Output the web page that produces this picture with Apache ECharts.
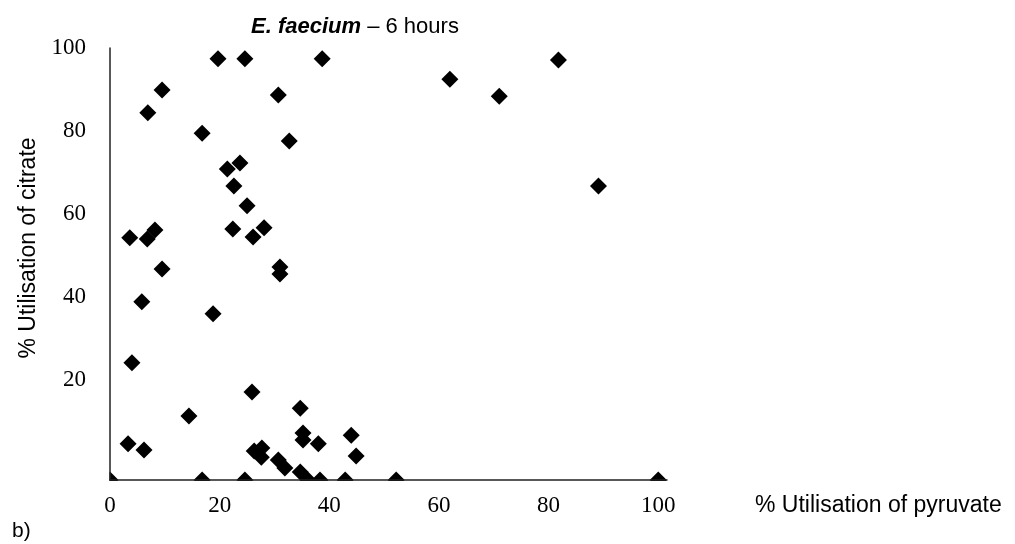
<!DOCTYPE html>
<html>
<head>
<meta charset="utf-8">
<script src="https://cdn.jsdelivr.net/npm/echarts@6/dist/echarts.min.js"></script>
<style>
  html, body { margin: 0; padding: 0; background: #fff; }
  #chart { width: 1015px; height: 544px; }
</style>
</head>
<body>
<div id="chart"></div>
<script>
// % utilisation (x = pyruvate, y = citrate)
const pyruvate = [
  19.7, 24.6, 38.7, 81.8, 9.5, 6.9, 30.7, 62.0, 71.0, 16.8,
  32.7, 23.7, 21.4, 22.6, 89.1, 25.0, 3.6, 6.8, 8.2, 22.4,
  26.1, 28.1, 9.5, 31.0, 31.0, 5.8, 18.8, 4.0, 25.9, 14.4,
  34.7, 35.2, 35.2, 38.0, 44.0, 44.9, 3.3, 6.2, 26.3, 27.7,
  27.6, 30.7, 31.9, 34.7, 0, 16.8, 24.6, 36.1, 38.3, 42.9,
  52.2, 100
];
const citrate = [
  97.4, 97.4, 97.4, 97.1, 89.9, 84.4, 88.7, 92.5, 88.4, 79.5,
  77.6, 72.3, 70.9, 66.8, 66.8, 62.0, 54.3, 54.0, 56.2, 56.4,
  54.5, 56.7, 46.8, 47.3, 45.6, 38.9, 36.0, 24.2, 17.2, 11.4,
  13.3, 7.3, 5.6, 4.7, 6.8, 1.8, 4.7, 3.2, 3.0, 3.7,
  1.5, 0.8, -1.1, -2.1, -4, -4, -4, -4, -4, -4,
  -4, -4
];
const xTicks = [0, 20, 40, 60, 80, 100];
const yTicks = [20, 40, 60, 80, 100];

const sans = "'Liberation Sans', Arial, sans-serif";
const serif = "'Liberation Serif', 'Times New Roman', serif";

const chart = echarts.init(document.getElementById("chart"));
chart.setOption({
  animation: false,
  backgroundColor: "#fff",
  title: [
    {
      text: "{b|E. faecium} – 6 hours",
      left: 246,
      top: 11,
      textStyle: {
        fontFamily: sans,
        fontSize: 22,
        fontWeight: "normal",
        color: "#000",
        rich: {
          b: { fontFamily: sans, fontSize: 22, fontWeight: "bold", fontStyle: "italic", color: "#000" }
        }
      }
    },
    {
      text: "b)",
      left: 7,
      top: 516,
      textStyle: { fontFamily: sans, fontSize: 21, fontWeight: "normal", color: "#000" }
    }
  ],
  grid: { left: 110, right: 348, top: 48, bottom: 64 },
  xAxis: {
    type: "value",
    min: 0,
    max: 101.6,
    z: 10,
    name: "% Utilisation of pyruvate",
    nameLocation: "end",
    nameGap: 88,
    nameTextStyle: {
      fontFamily: sans,
      fontSize: 23,
      color: "#000",
      verticalAlign: "top",
      padding: [14, 0, 0, 0]
    },
    axisLine: { onZero: false, lineStyle: { color: "#222", width: 1.5 } },
    axisTick: { show: false },
    splitLine: { show: false },
    axisLabel: {
      customValues: xTicks,
      margin: 14,
      fontFamily: serif,
      fontSize: 23,
      color: "#000"
    }
  },
  yAxis: {
    type: "value",
    min: -4,
    max: 100,
    z: 10,
    name: "% Utilisation of citrate",
    nameLocation: "middle",
    nameRotate: 90,
    nameGap: 68,
    nameTextStyle: { fontFamily: sans, fontSize: 23, color: "#000", padding: [0, 0, 0, 32] },
    axisLine: { show: true, onZero: false, lineStyle: { color: "#222", width: 1.5 } },
    axisTick: { show: false },
    splitLine: { show: false },
    axisLabel: {
      customValues: yTicks,
      margin: 24,
      fontFamily: serif,
      fontSize: 23,
      color: "#000"
    }
  },
  // white masks so markers sitting on the axes show only their inner half
  graphic: [
    { type: "rect", z: 5, shape: { x: 95, y: 481, width: 590, height: 11 }, style: { fill: "#fff" } },
    { type: "rect", z: 5, shape: { x: 98, y: 468, width: 11.5, height: 14 }, style: { fill: "#fff" } }
  ],
  series: [
    {
      type: "scatter",
      symbol: "diamond",
      symbolSize: 17,
      clip: false,
      itemStyle: { color: "#000", opacity: 1 },
      data: pyruvate.map((x, i) => [x, citrate[i]])
    }
  ]
});
</script>
</body>
</html>
